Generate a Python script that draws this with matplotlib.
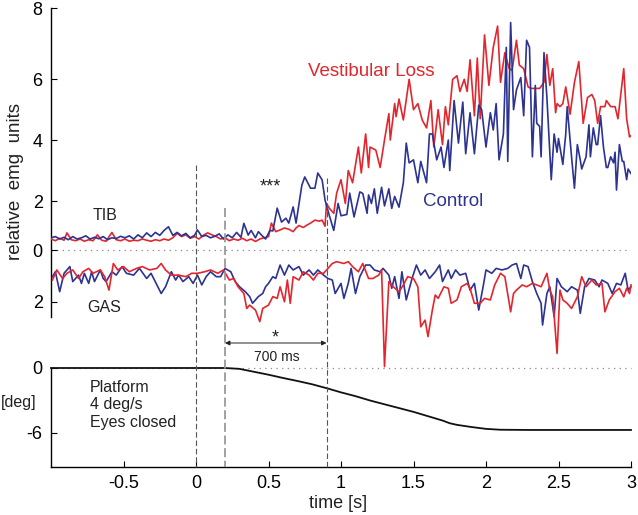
import numpy as np
import matplotlib
matplotlib.use('Agg')
import matplotlib.pyplot as plt
from matplotlib.lines import Line2D
from matplotlib import transforms

plt.rcParams['font.family'] = ['Liberation Sans', 'DejaVu Sans']

# ---------------- data ----------------
tib_ctrl_t = [-1.0, -0.97, -0.94, -0.91, -0.88, -0.85, -0.82, -0.79, -0.76, -0.73, -0.70, -0.67, -0.64, -0.61,
              -0.58, -0.55, -0.52, -0.49, -0.46, -0.43, -0.40, -0.37, -0.34, -0.31, -0.28, -0.25, -0.22, -0.19,
              -0.16, -0.13, -0.10, -0.07, -0.04, -0.01, 0.01, 0.04, 0.07, 0.10, 0.13, 0.16, 0.19, 0.22, 0.25,
              0.28, 0.31, 0.33, 0.36, 0.38, 0.41, 0.43, 0.45, 0.48, 0.51, 0.53, 0.56, 0.59, 0.62, 0.64, 0.67,
              0.69, 0.73, 0.75, 0.79, 0.82, 0.84, 0.87, 0.89, 0.92, 0.95, 0.98, 1.0, 1.04, 1.06, 1.09, 1.13,
              1.15, 1.18, 1.19, 1.21, 1.23, 1.25, 1.28, 1.30, 1.33, 1.35, 1.37, 1.40, 1.43, 1.45, 1.47, 1.50,
              1.53, 1.55, 1.59, 1.61, 1.63, 1.66, 1.69, 1.71, 1.74, 1.75, 1.78, 1.81, 1.84, 1.86, 1.89, 1.92,
              1.95, 1.97, 2.0, 2.03, 2.05, 2.07, 2.09, 2.12, 2.14, 2.15, 2.17, 2.19, 2.21, 2.24, 2.26, 2.28,
              2.30, 2.32, 2.34, 2.35, 2.37, 2.38, 2.40, 2.42, 2.45, 2.47, 2.49, 2.50, 2.53, 2.55, 2.56, 2.59,
              2.61, 2.63, 2.65, 2.66, 2.69, 2.71, 2.72, 2.74, 2.76, 2.77, 2.79, 2.81, 2.83, 2.84, 2.86, 2.88,
              2.89, 2.90, 2.92, 2.94, 2.95, 2.97, 2.98, 3.0]
tib_ctrl_v = [0.5, 0.55, 0.45, 0.52, 0.42, 0.55, 0.45, 0.5, 0.58, 0.45, 0.52, 0.46, 0.55, 0.42,
              0.5, 0.47, 0.56, 0.5, 0.58, 0.45, 0.62, 0.5, 0.7, 0.55, 0.72, 0.6, 0.8, 0.95,
              0.6, 0.72, 0.58, 0.68, 0.5, 0.6, 0.82, 0.55, 0.6, 0.5, 0.56, 0.66, 0.45, 0.62, 0.5,
              0.72, 0.52, 1.09, 0.61, 0.8, 0.5, 0.75, 0.62, 0.45, 0.8, 0.78, 1.71, 1.14, 1.3, 1.1, 1.76,
              1.1, 2.52, 2.79, 2.42, 2.42, 2.92, 2.69, 2.03, 1.4, 0.8, 1.9, 1.4, 1.45, 2.26, 1.35, 2.3,
              2.25, 1.5, 2.2, 1.9, 2.4, 1.5, 2.45, 1.8, 2.4, 1.7, 2.15, 1.75, 2.6, 3.9, 3.25, 3.35,
              2.6, 3.3, 2.6, 4.2, 4.2, 3.35, 3.77, 3.1, 4.0, 3.0, 5.3, 3.9, 5.25, 3.55, 4.9, 3.55,
              5.15, 5.0, 3.77, 4.9, 4.33, 5.2, 3.35, 4.2, 6.9, 3.3, 7.6, 5.0, 5.65, 6.05, 4.8, 7.1,
              6.9, 3.45, 5.8, 4.55, 4.45, 3.45, 6.75, 5.4, 2.7, 4.2, 3.6, 4.05, 3.2, 4.2, 5.1, 3.45,
              2.42, 3.85, 3.35, 3.05, 3.45, 4.5, 3.45, 4.4, 3.85, 3.85, 4.8, 3.77, 3.1, 3.1, 3.45, 3.25,
              3.6, 2.36, 3.85, 3.3, 3.3, 2.7, 3.05, 2.9]

tib_vl_t = [-1.0, -0.97, -0.94, -0.91, -0.89, -0.86, -0.83, -0.80, -0.77, -0.74, -0.71, -0.68, -0.65, -0.62,
            -0.58, -0.55, -0.52, -0.49, -0.46, -0.43, -0.40, -0.37, -0.34, -0.31, -0.28, -0.25, -0.22, -0.19,
            -0.16, -0.13, -0.10, -0.07, -0.04, -0.01, 0.02, 0.05, 0.08, 0.11, 0.14, 0.17, 0.20, 0.23, 0.26,
            0.29, 0.32, 0.35, 0.38, 0.41, 0.44, 0.47, 0.50, 0.52, 0.55, 0.58, 0.61, 0.64, 0.67, 0.69, 0.71,
            0.74, 0.76, 0.79, 0.82, 0.85, 0.87, 0.89, 0.90, 0.92, 0.95, 0.97, 1.0, 1.03, 1.05, 1.08, 1.12,
            1.14, 1.17, 1.19, 1.20, 1.24, 1.27, 1.30, 1.33, 1.34, 1.37, 1.38, 1.40, 1.43, 1.47, 1.50, 1.53,
            1.56, 1.59, 1.62, 1.64, 1.67, 1.70, 1.72, 1.74, 1.77, 1.80, 1.82, 1.85, 1.87, 1.89, 1.92, 1.94,
            1.96, 1.99, 2.02, 2.05, 2.08, 2.10, 2.13, 2.16, 2.18, 2.21, 2.23, 2.26, 2.29, 2.31, 2.34, 2.37,
            2.40, 2.42, 2.44, 2.46, 2.48, 2.49, 2.51, 2.53, 2.55, 2.58, 2.61, 2.64, 2.67, 2.70, 2.73, 2.75,
            2.77, 2.79, 2.82, 2.83, 2.86, 2.89, 2.91, 2.95, 2.97, 2.99, 3.0]
tib_vl_v = [0.45, 0.38, 0.48, 0.4, 0.7, 0.42, 0.38, 0.45, 0.36, 0.42, 0.38, 0.62, 0.4, 0.36,
            0.72, 0.42, 0.38, 0.45, 0.36, 0.4, 0.38, 0.45, 0.4, 0.36, 0.42, 0.38, 0.45, 0.4,
            0.5, 0.68, 0.55, 0.62, 0.48, 0.55, 0.45, 0.6, 0.7, 0.62, 0.55, 0.45, 0.5, 0.38, 0.45,
            0.4, 0.48, 0.38, 0.45, 0.35, 0.45, 0.5, 0.55, 1.1, 0.75, 0.82, 0.9, 0.85, 0.75, 0.9, 1.0,
            0.92, 1.0, 1.1, 1.22, 1.18, 1.22, 0.97, 1.9, 1.7, 1.5, 2.26, 2.7, 1.9, 3.0, 2.6, 3.77,
            2.92, 4.2, 3.1, 3.77, 3.67, 3.1, 4.0, 4.87, 4.0, 5.2, 4.77, 5.35, 4.66, 6.0, 5.0, 5.2,
            4.66, 4.4, 5.3, 3.77, 5.0, 3.85, 5.1, 4.5, 6.0, 6.1, 5.6, 6.0, 5.6, 6.55, 4.8, 6.6,
            4.7, 7.25, 5.8, 6.9, 7.5, 5.9, 6.75, 6.3, 6.25, 7.1, 6.4, 6.3, 5.75, 5.7, 5.7, 5.7,
            5.9, 6.7, 5.8, 6.3, 4.9, 5.2, 5.1, 5.2, 5.75, 4.85, 5.9, 6.5, 4.55, 5.4, 5.5, 5.3,
            4.55, 5.1, 5.1, 5.3, 5.1, 5.1, 4.7, 6.3, 4.7, 4.1, 4.15]

gas_ctrl_t = [-0.99, -0.97, -0.94, -0.91, -0.87, -0.85, -0.81, -0.79, -0.77, -0.74, -0.72, -0.70, -0.66,
              -0.64, -0.62, -0.58, -0.55, -0.51, -0.48, -0.43, -0.39, -0.34, -0.31, -0.27, -0.24, -0.21,
              -0.17, -0.14, -0.12, -0.09, -0.05, -0.02, 0.01, 0.04, 0.07, 0.10, 0.14, 0.17, 0.20, 0.24,
              0.27, 0.30, 0.34, 0.37, 0.39, 0.43, 0.46, 0.48, 0.50, 0.53, 0.55, 0.58, 0.61, 0.64, 0.67,
              0.71, 0.74, 0.78, 0.81, 0.84, 0.88, 0.91, 0.94, 0.96, 1.0, 1.02, 1.05, 1.07, 1.10, 1.13,
              1.17, 1.20, 1.23, 1.27, 1.29, 1.33, 1.35, 1.37, 1.40, 1.42, 1.45, 1.49, 1.52, 1.55, 1.58,
              1.61, 1.65, 1.68, 1.70, 1.74, 1.76, 1.79, 1.82, 1.86, 1.89, 1.92, 1.95, 1.98, 2.0, 2.04,
              2.07, 2.11, 2.15, 2.18, 2.21, 2.24, 2.26, 2.29, 2.32, 2.35, 2.38, 2.39, 2.42, 2.44, 2.47,
              2.49, 2.52, 2.56, 2.59, 2.63, 2.65, 2.68, 2.71, 2.75, 2.78, 2.80, 2.84, 2.87, 2.90, 2.93,
              2.96, 2.98, 3.0]
gas_ctrl_v = [1.03, 0.84, 1.61, 0.9, 0.64, 1.22, 0.97, 1.29, 0.9, 1.29, 0.84, 1.22, 0.77,
              1.1, 1.22, 0.84, 0.97, 0.64, 0.9, 0.97, 0.71, 1.1, 0.9, 1.35, 1.68, 1.42,
              0.84, 1.16, 0.97, 1.22, 1.03, 1.29, 0.97, 1.35, 1.03, 0.84, 1.03, 1.03, 0.71, 0.84,
              1.22, 1.42, 1.61, 1.8, 2.06, 1.8, 1.68, 1.42, 1.29, 1.03, 1.1, 0.58, 0.97, 0.58, 0.77,
              0.64, 0.97, 0.77, 0.97, 0.77, 0.97, 1.1, 1.16, 1.68, 1.29, 1.87, 1.29, 0.71, 1.68, 1.03,
              0.58, 0.58, 0.77, 0.84, 0.71, 0.97, 1.48, 1.03, 1.87, 0.84, 1.93, 1.1, 0.58, 0.97, 0.77,
              1.1, 0.84, 0.58, 1.22, 0.77, 1.1, 0.77, 0.97, 0.9, 1.55, 1.29, 2.32, 1.42, 0.77, 0.9,
              0.71, 0.77, 0.71, 0.58, 0.52, 1.1, 0.58, 0.64, 1.22, 1.68, 2.06, 2.9, 1.68, 1.42, 2.58,
              1.1, 1.42, 1.61, 1.42, 1.55, 2.45, 1.42, 1.1, 1.16, 1.42, 1.16, 1.29, 1.68, 1.29, 1.35,
              0.9, 1.55, 1.42]

gas_vl_t = [-0.99, -0.96, -0.92, -0.89, -0.85, -0.81, -0.78, -0.74, -0.71, -0.66, -0.63, -0.60, -0.57,
            -0.54, -0.50, -0.46, -0.41, -0.37, -0.32, -0.27, -0.24, -0.21, -0.17, -0.12, -0.07, -0.03,
            0.01, 0.06, 0.10, 0.15, 0.19, 0.23, 0.26, 0.29, 0.33, 0.35, 0.37, 0.41, 0.44, 0.46, 0.50,
            0.53, 0.56, 0.58, 0.61, 0.63, 0.65, 0.67, 0.71, 0.74, 0.78, 0.81, 0.84, 0.88, 0.91, 0.94,
            0.97, 1.02, 1.05, 1.08, 1.12, 1.15, 1.19, 1.22, 1.26, 1.28, 1.30, 1.33, 1.36, 1.40, 1.43,
            1.46, 1.50, 1.53, 1.55, 1.58, 1.60, 1.63, 1.65, 1.67, 1.71, 1.74, 1.76, 1.80, 1.83, 1.87,
            1.89, 1.92, 1.96, 1.99, 2.03, 2.06, 2.10, 2.13, 2.17, 2.19, 2.21, 2.25, 2.28, 2.32, 2.35,
            2.38, 2.42, 2.44, 2.46, 2.49, 2.51, 2.53, 2.56, 2.59, 2.63, 2.66, 2.69, 2.73, 2.76, 2.80,
            2.82, 2.85, 2.89, 2.92, 2.95, 2.97, 2.99, 3.0]
gas_vl_v = [1.16, 0.77, 1.1, 0.9, 0.77, 1.1, 0.84, 0.71, 0.9, 0.77, 1.03, 1.55, 0.52,
            0.77, 0.64, 0.84, 0.71, 0.64, 0.77, 0.71, 0.52, 0.77, 0.97, 0.97, 1.03, 0.9,
            0.9, 0.84, 0.77, 0.9, 0.77, 1.16, 1.1, 1.42, 1.68, 2.26, 2.13, 2.32, 2.77, 2.26, 2.13,
            1.8, 1.87, 1.42, 2.0, 1.16, 2.06, 1.03, 1.16, 0.84, 0.97, 1.16, 0.9, 0.9, 0.71, 0.52,
            0.45, 0.52, 0.45, 0.64, 0.84, 0.52, 1.1, 1.1, 0.97, 0.77, 4.51, 1.22, 1.42, 1.61, 1.35,
            1.03, 1.1, 1.42, 2.97, 2.71, 3.35, 2.32, 1.74, 1.87, 1.42, 1.48, 2.06, 1.93, 1.42, 1.29,
            1.48, 2.06, 2.06, 1.87, 1.93, 1.35, 0.9, 1.03, 2.39, 1.68, 1.55, 1.35, 1.42, 1.29, 1.35,
            1.42, 0.9, 1.55, 1.81, 4.0, 1.55, 1.93, 2.06, 2.26, 1.81, 1.03, 1.42, 1.16, 1.35, 1.29,
            2.39, 1.93, 1.61, 1.48, 1.81, 1.48, 1.68, 1.35]

plat_t = [-1.0, -0.5, 0.0, 0.2, 0.3, 0.4, 0.5, 0.6, 0.7, 0.8, 0.9, 1.0, 1.1, 1.2, 1.3, 1.4, 1.5,
          1.6, 1.7, 1.75, 1.8, 1.9, 2.0, 2.1, 2.3, 2.5, 2.7, 3.0]
plat_v = [0.0, 0.0, 0.0, 0.0, -0.08, -0.35, -0.62, -0.92, -1.2, -1.5, -1.86, -2.25, -2.6, -3.0, -3.35,
          -3.7, -4.05, -4.45, -4.85, -5.1, -5.25, -5.45, -5.62, -5.7, -5.72, -5.72, -5.72, -5.72]

x_ticks = [-0.5, 0, 0.5, 1, 1.5, 2, 2.5, 3]
x_ticklabels = ['-0.5', '0', '0.5', '1', '1.5', '2', '2.5', '3']
emg_ticks = [8, 6, 4, 2, 0, -2]
emg_ticklabels = ['8', '6', '4', '2', '0', '2']
deg_ticks = [0, -6]
deg_ticklabels = ['0', '-6']

# ---------------- style ----------------
BLUE = '#2c3390'
RED = '#e3262d'
W_PX, H_PX = 638.0, 515.0

fig = plt.figure(figsize=(6.38, 5.15), dpi=100)


def fy(py):
    return 1 - py / H_PX


L = 51 / W_PX
W = 580 / W_PX
ax = fig.add_axes([L, fy(317), W, (317 - 8.3) / H_PX])
axb = fig.add_axes([L, fy(467), W, (467 - 368) / H_PX])

# piecewise-linear y scale matching the reference tick spacing
sv = np.array([-20, -2, 0, 2, 4, 6, 8, 30], float)
sp = np.array([301.7 + 18 * 25.85, 301.7, 250, 201, 140, 79.3, 8.3, 8.3 - 22 * 35.5])


def fwd(v):
    return np.interp(v, sv, -sp)


def inv(y):
    return np.interp(y, -sp, sv)


ax.set_yscale('function', functions=(fwd, inv))
ax.set_xlim(-1, 3)
ax.set_ylim(-2.59, 8)
axb.set_xlim(-1, 3)
axb.set_ylim(-9.14, 0)

LW = 1.2
ax.axhline(0, color='#8a8a8a', lw=0.9, ls=(0, (1, 3.5)), zorder=1)
ax.plot(tib_vl_t, tib_vl_v, color=RED, lw=LW, zorder=3)
ax.plot(tib_ctrl_t, tib_ctrl_v, color=BLUE, lw=LW, zorder=3)
ax.plot(gas_ctrl_t, -np.array(gas_ctrl_v), color=BLUE, lw=LW, zorder=3, clip_on=False)
ax.plot(gas_vl_t, -np.array(gas_vl_v), color=RED, lw=LW, zorder=3, clip_on=False)

axb.axhline(0, color='#8a8a8a', lw=0.9, ls=(0, (1, 3.5)), zorder=1, clip_on=False)
axb.plot(plat_t, plat_v, color='#111111', lw=1.3, zorder=3, clip_on=False)

for a in (ax, axb):
    a.patch.set_alpha(0)
    a.spines['top'].set_visible(False)
    a.spines['right'].set_visible(False)
    a.spines['left'].set_linewidth(1.0)
    a.minorticks_off()
ax.spines['bottom'].set_visible(False)
ax.set_xticks([])
ax.set_yticks(emg_ticks)
ax.set_yticklabels(emg_ticklabels)
ax.yaxis.set_minor_locator(matplotlib.ticker.NullLocator())
ax.tick_params(axis='y', direction='in', length=4, width=0.8, labelsize=13, pad=6)

axb.spines['bottom'].set_linewidth(1.0)
axb.set_xticks(x_ticks)
axb.set_xticklabels(x_ticklabels)
axb.set_yticks(deg_ticks)
axb.set_yticklabels(deg_ticklabels)
axb.tick_params(axis='x', direction='in', length=4, width=0.8, labelsize=13, pad=6)
axb.tick_params(axis='y', direction='in', length=4, width=0.8, labelsize=13, pad=6)

blend = transforms.blended_transform_factory(ax.transData, fig.transFigure)

# vertical markers spanning both panels
fig.add_artist(Line2D([0, 0], [fy(165), fy(467)], transform=blend, color='#555555', lw=0.8,
                      ls=(0, (5, 2.5)), zorder=2))
fig.add_artist(Line2D([0.2, 0.2], [fy(208), fy(467)], transform=blend, color='#9a9a9a', lw=1.3,
                      ls=(0, (5, 2)), zorder=2))
fig.add_artist(Line2D([0.9, 0.9], [fy(178), fy(467)], transform=blend, color='#555555', lw=0.8,
                      ls=(0, (5, 2.5)), zorder=2))

# 700 ms arrow
ax.annotate('', xy=(0.2, fy(343)), xytext=(0.9, fy(343)), xycoords=blend, textcoords=blend,
            arrowprops=dict(arrowstyle='<|-|>', color='#222222', lw=0.7, mutation_scale=7,
                            shrinkA=0, shrinkB=0), annotation_clip=False)

TXT = '#222222'
fig.text(0.545, fy(342), '*', transform=blend, ha='center', va='baseline', fontsize=13, color=TXT)
fig.text(0.56, fy(357), '700 ms', transform=blend, ha='center', va='center', fontsize=10, color=TXT)
fig.text(0.51, fy(191), '***', transform=blend, ha='center', va='baseline', fontsize=13, color=TXT)
fig.text(-0.63, fy(216), 'TIB', transform=blend, ha='center', va='center', fontsize=11.5, color=TXT)
fig.text(-0.63, fy(308), 'GAS', transform=blend, ha='center', va='center', fontsize=11.5, color=TXT)
fig.text(1.21, fy(71), 'Vestibular Loss', transform=blend, ha='center', va='center', fontsize=13.5,
         color=RED)
fig.text(1.77, fy(202), 'Control', transform=blend, ha='center', va='center', fontsize=13.5, color=BLUE)
fig.text(-0.73, fy(405), 'Platform\n4 deg/s\nEyes closed', transform=blend, ha='left', va='center',
         fontsize=11.5, color=TXT, linespacing=1.2)

fig.text(16 / W_PX, fy(182), 'relative  emg  units', rotation=90, ha='center', va='center',
         fontsize=13.5, color=TXT)
fig.text(1 / W_PX, fy(403), '[deg]', ha='left', va='center', fontsize=11.5, color=TXT)
fig.text(0.98, fy(504), 'time [s]', transform=blend, ha='center', va='center', fontsize=13, color=TXT)

fig.savefig('out.png', dpi=100)
